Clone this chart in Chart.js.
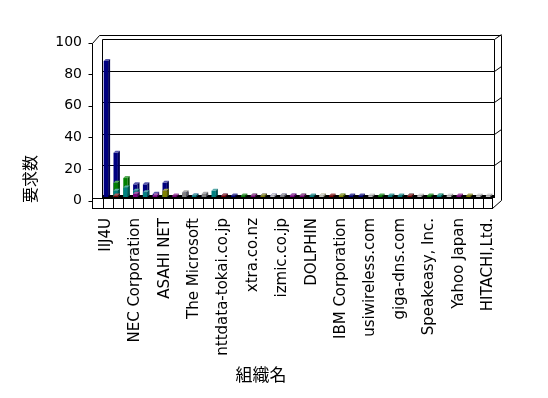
<!DOCTYPE html>
<html>
<head>
<meta charset="utf-8">
<script src="https://cdn.jsdelivr.net/npm/chart.js@4/dist/chart.umd.min.js"></script>
<style>
  html, body { margin: 0; padding: 0; background: #fff; }
</style>
</head>
<body>
<canvas id="chart" width="548" height="398"></canvas>
<script>
// 40 organisations, only every third name is printed on the axis
const categories = [
  'IIJ4U', '', '', 'NEC Corporation', '', '', 'ASAHI NET', '', '', 'The Microsoft',
  '', '', 'nttdata-tokai.co.jp', '', '', 'xtra.co.nz', '', '', 'izmic.co.jp', '',
  '', 'DOLPHIN', '', '', 'IBM Corporation', '', '', 'usiwireless.com', '', '',
  'giga-dns.com', '', '', 'Speakeasy, Inc.', '', '', 'Yahoo Japan', '', '', 'HITACHI,Ltd.'
];

const navy   = [86, 28, 1, 8, 8, 2, 9, 0, 2, 1,  1, 0, 1, 1, 0, 0, 1, 1, 1, 1,  0, 0, 0, 0, 0, 1, 1, 0, 0, 0,  0, 0, 0, 0, 0, 0, 0, 0, 0, 0];
const green  = [0, 9, 12, 0, 0, 0, 2, 0, 0, 0,  0, 0, 0, 0, 1, 1, 0, 0, 0, 0,  1, 0, 0, 0, 1, 0, 0, 0, 1, 0,  0, 0, 0, 1, 1, 0, 0, 0, 0, 0];
const teal   = [0, 4, 6, 4, 3, 0, 1, 0, 0, 1,  0, 4, 0, 0, 0, 0, 0, 0, 0, 0,  0, 1, 0, 0, 0, 0, 0, 0, 0, 1,  1, 1, 0, 0, 1, 0, 0, 0, 0, 0];
const purple = [0, 0, 0, 2, 0, 1, 0, 1, 0, 0,  0, 0, 0, 0, 0, 1, 0, 0, 0, 1,  1, 0, 0, 0, 0, 0, 0, 0, 0, 0,  0, 0, 0, 0, 0, 0, 1, 0, 0, 0];
const maroon = [0, 1, 0, 0, 0, 0, 0, 0, 0, 0,  0, 0, 1, 0, 0, 0, 0, 0, 0, 0,  0, 0, 0, 1, 0, 0, 0, 0, 0, 0,  0, 1, 0, 0, 0, 0, 0, 0, 0, 0];
const olive  = [0, 0, 0, 0, 0, 0, 4, 0, 0, 0,  0, 0, 0, 0, 0, 0, 1, 0, 0, 0,  0, 0, 1, 0, 1, 0, 0, 0, 0, 0,  0, 0, 0, 0, 0, 0, 0, 1, 0, 0];
const gray   = [0, 0, 0, 0, 0, 0, 0, 0, 3, 0,  2, 0, 0, 0, 0, 0, 0, 0, 1, 0,  0, 0, 0, 0, 0, 0, 0, 0, 0, 0,  0, 0, 0, 0, 0, 0, 0, 0, 0, 0];
const silver = [0, 0, 0, 0, 0, 0, 0, 0, 0, 0,  0, 0, 0, 0, 0, 0, 0, 1, 0, 0,  0, 0, 1, 0, 0, 0, 0, 1, 0, 0,  0, 0, 1, 0, 0, 1, 0, 0, 1, 1];

const yTicks = [0, 20, 40, 60, 80, 100];

// first dataset is painted last (on top), so the tall navy series goes at the end
const series = [
  { data: silver, color: '#c0c0c0' },
  { data: olive,  color: '#808000' },
  { data: maroon, color: '#800000' },
  { data: purple, color: '#800080' },
  { data: gray,   color: '#808080' },
  { data: teal,   color: '#008080' },
  { data: green,  color: '#008000' },
  { data: navy,   color: '#000080' }
];

function line(ctx, x1, y1, x2, y2) {
  ctx.beginPath();
  ctx.moveTo(x1, y1);
  ctx.lineTo(x2, y2);
  ctx.stroke();
}

function mix(hex, to, t) {
  const c = [1, 3, 5].map(i => parseInt(hex.substr(i, 2), 16));
  return 'rgb(' + c.map(v => Math.round(v + (to - v) * t)).join(',') + ')';
}

function poly(ctx, pts, fill) {
  ctx.beginPath();
  ctx.moveTo(pts[0][0], pts[0][1]);
  pts.slice(1).forEach(p => ctx.lineTo(p[0], p[1]));
  ctx.closePath();
  ctx.fillStyle = fill;
  ctx.fill();
}

// 3D box of the old spreadsheet chart: walls, floor and the front strip
const frame = {
  id: 'frame',
  beforeDatasetsDraw(chart) {
    const { ctx, chartArea: a, scales: { y } } = chart;
    const L = a.left + 1.5, R = a.right + 1.5;
    const T = Math.round(y.getPixelForValue(100)) + 0.5, B = Math.round(y.getPixelForValue(0)) + 0.5;
    ctx.save();
    ctx.strokeStyle = '#000';
    ctx.lineWidth = 1;
    yTicks.forEach(v => {
      const py = Math.round(y.getPixelForValue(v)) + 0.5;
      line(ctx, L, py, R, py);
      if (v > 0) line(ctx, R, py, R + 7, py - 5);
    });
    line(ctx, L, T, L, B);
    line(ctx, R, T, R, B);
    // outer edges of the wall slabs
    const FL = a.left - 8.5;
    line(ctx, FL, T + 4, FL, B + 11);
    line(ctx, FL, T + 4, FL + 7, T - 4);
    line(ctx, FL + 7, T - 4, R + 7, T - 4);
    line(ctx, R + 7, T - 4, R + 7, B + 3);
    line(ctx, R + 7, B + 3, R - 2, B + 11);
    // tick marks on the front value axis
    yTicks.forEach(v => {
      const py = Math.round(y.getPixelForValue(v) + 3.5) + 0.5;
      line(ctx, FL - 4, py, FL, py);
    });
    // floor slab
    const Bp = Math.round(y.getPixelForValue(0));
    ctx.fillStyle = '#000';
    ctx.fillRect(a.left + 1, Bp - 2, a.right - a.left + 1, 3);
    const FR = a.right - 0.5;
    ctx.strokeRect(FL, Bp + 1.5, FR - FL, 10);
    const n = categories.length;
    for (let k = 1; k < n; k++) {
      const px = Math.round(FL + k * (FR - FL) / n) + 0.5;
      line(ctx, px, Bp + 1.5, px, Bp + 11.5);
    }
    ctx.restore();
  },
  // give every column a top and a side face
  afterDatasetDraw(chart, args) {
    const { ctx } = chart;
    const color = series[args.index].color;
    const d = 2;
    ctx.save();
    args.meta.data.forEach(el => {
      const { x, y, base, width } = el.getProps(['x', 'y', 'base', 'width'], true);
      if (!(base - y > 0.1)) return;
      const x0 = x - width / 2, x1 = x + width / 2;
      poly(ctx, [[x0, y], [x0 + d, y - d], [x1 + d, y - d], [x1, y]], mix(color, 255, 0.35));
      poly(ctx, [[x1, y], [x1 + d, y - d], [x1 + d, base - d], [x1, base]], mix(color, 0, 0.35));
    });
    ctx.restore();
  },
  afterDraw(chart) {
    const { ctx } = chart;
    ctx.save();
    ctx.fillStyle = '#000';
    ctx.textAlign = 'center';
    ctx.textBaseline = 'middle';
    ctx.font = '17px "Noto Sans CJK JP"';
    ctx.fillText('組織名', 261, 375);
    ctx.translate(30, 179);
    ctx.rotate(-Math.PI / 2);
    ctx.font = '16px "Noto Sans CJK JP"';
    ctx.fillText('要求数', 0, 0);
    ctx.restore();
  }
};

new Chart(document.getElementById('chart'), {
  type: 'bar',
  data: {
    labels: categories,
    datasets: series.map(s => ({
      data: s.data,
      backgroundColor: s.color,
      borderWidth: 0,
      grouped: false,
      barPercentage: 0.45,
      categoryPercentage: 1
    }))
  },
  options: {
    responsive: false,
    animation: false,
    layout: { padding: { top: 39, right: 55, bottom: 0, left: 0 } },
    plugins: { legend: { display: false }, tooltip: { enabled: false } },
    scales: {
      x: {
        grid: { display: false, drawTicks: false },
        border: { display: false },
        ticks: {
          autoSkip: false, maxRotation: 90, minRotation: 90, padding: 21,
          color: '#000', font: { family: 'DejaVu Sans', size: 15 }
        },
        afterFit: s => { s.height = 201; }
      },
      y: {
        min: 0, max: 100,
        grid: { display: false, drawTicks: false },
        border: { display: false },
        ticks: {
          stepSize: 20, padding: 19, labelOffset: 3.5,
          color: '#000', font: { family: 'DejaVu Sans', size: 14 }
        },
        afterFit: s => { s.width = 101; }
      }
    }
  },
  plugins: [frame]
});
</script>
</body>
</html>
